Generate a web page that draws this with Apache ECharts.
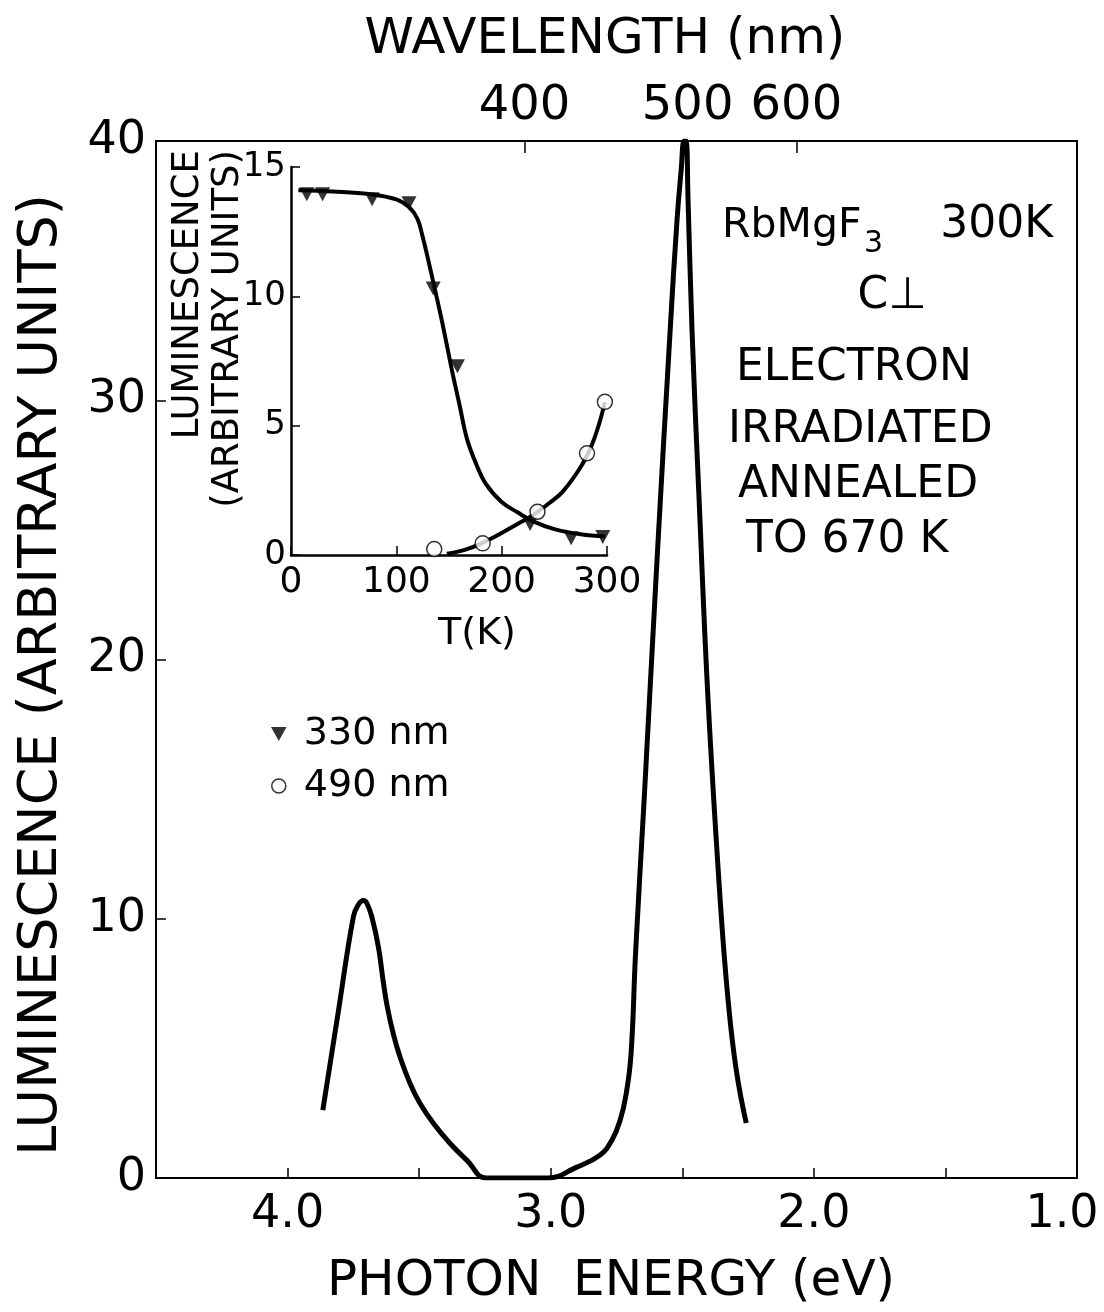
<!DOCTYPE html>
<html>
<head>
<meta charset="utf-8">
<title>RbMgF3 luminescence</title>
<script src="https://cdn.jsdelivr.net/npm/echarts@6/dist/echarts.min.js"></script>
<style>
  html, body { margin: 0; padding: 0; background: #fff; }
  #chart { width: 1104px; height: 1312px; }
</style>
</head>
<body>
<div id="chart"></div>
<script>
// main spectrum (photon energy in eV, luminescence in arb. units)
const energyEv = [3.866, 3.808, 3.750, 3.732, 3.712, 3.699, 3.680, 3.655, 3.636, 3.621, 3.598, 3.573, 3.535, 3.497,
  3.446, 3.383, 3.319, 3.243,
  3.010, 2.907, 2.812, 2.767, 2.736, 2.714, 2.695, 2.677, 2.645, 2.596, 2.546, 2.520, 2.504, 2.493,
  2.486, 2.478, 2.463, 2.436, 2.402, 2.356, 2.326, 2.295, 2.257]
const luminescence = [2.62, 6.36, 10.08, 10.53, 10.70, 10.60, 10.08, 8.92, 7.55, 6.6, 5.55, 4.68, 3.66, 2.88,
  2.11, 1.34, 0.69, 0,
  0, 0.39, 0.89, 1.47, 2.24, 3.20, 4.75, 8.79, 14.58, 23.84, 32.71, 36.95, 38.9, 40,
  40, 37.7, 32.7, 26.15, 18.44, 10.72, 6.87, 4.17, 2.12]

// top axis wavelengths (nm)
const wavelengthTicks = [400, 500, 600]

// inset: measured points
const temp330 = [15, 30, 77, 112, 135, 158, 227, 266, 296]
const lum330 = [13.95, 13.95, 13.75, 13.6, 10.3, 7.3, 1.2, 0.65, 0.7]
const temp490 = [136, 182, 234, 281, 298]
const lum490 = [0.23, 0.45, 1.67, 3.93, 5.92]

// inset: drawn curves through the points
const curveT330 = [7, 40, 75, 100, 112, 120, 125, 132, 143, 153, 160, 167, 175, 185, 200, 215, 230, 250, 275, 298]
const curveL330 = [14.1, 14.05, 13.95, 13.75, 13.45, 13.0, 12.3, 11.1, 9.1, 7.1, 5.8, 4.5, 3.6, 2.75, 2.05, 1.65, 1.3, 1.0, 0.8, 0.72]
const curveT490 = [148, 165, 182, 200, 215, 230, 245, 258, 275, 285, 292, 298]
const curveL490 = [0.05, 0.2, 0.47, 0.85, 1.2, 1.55, 2.0, 2.45, 3.4, 4.2, 5.0, 5.9]

const HC = 1239.84 // eV*nm
const FONT = 'DejaVu Sans'
const zip = (a, b) => a.map((v, i) => [v, b[i]])

const chart = echarts.init(document.getElementById('chart'), null, { renderer: 'canvas' })

const tickLabel = size => ({ color: '#000', fontFamily: FONT, fontSize: size })
const txt = (x, y, text, size, align, extra) => Object.assign({
  type: 'text',
  x: x,
  y: y,
  style: {
    text: text,
    fill: '#000',
    font: size + 'px "' + FONT + '"',
    textAlign: align || 'left',
    textVerticalAlign: 'middle'
  }
}, extra || {})

chart.setOption({
  backgroundColor: '#fff',
  animation: false,
  grid: [
    { left: 156, top: 141, width: 921, height: 1037, outerBoundsMode: 'none', show: true, borderColor: '#000', borderWidth: 2, backgroundColor: 'transparent' },
    { left: 291, top: 167, width: 316, height: 388, outerBoundsMode: 'none' }
  ],
  xAxis: [{
    // photon energy, bottom
    type: 'value', gridIndex: 0, min: 1, max: 4.5, interval: 0.5, inverse: true,
    axisLine: { show: true, lineStyle: { color: '#000', width: 2 } },
    axisTick: { inside: true, length: 10, lineStyle: { color: '#000', width: 1.5 } },
    axisLabel: {
      margin: 14, ...tickLabel(46),
      formatter: v => {
        if (Math.abs(v - Math.round(v)) > 1e-6 || v > 4.4) return ''
        // last label sits at the frame edge; nudge it inward
        return v < 1.01 ? '{edge|' + v.toFixed(1) + '}' : v.toFixed(1)
      },
      rich: { edge: { fontFamily: FONT, fontSize: 46, color: '#000', padding: [0, 30, 0, 0] } }
    },
    splitLine: { show: false }
  }, {
    // wavelength, top
    type: 'value', gridIndex: 0, min: 1, max: 4.5, inverse: true, position: 'top',
    axisLine: { show: false },
    axisTick: { inside: true, length: 12, customValues: wavelengthTicks.map(w => HC / w), lineStyle: { color: '#000', width: 1.5 } },
    axisLabel: {
      margin: 10, ...tickLabel(48),
      customValues: wavelengthTicks.map(w => HC / w),
      formatter: v => String(Math.round(HC / v))
    },
    splitLine: { show: false }
  }, {
    // inset temperature
    type: 'value', gridIndex: 1, min: 0, max: 300, interval: 100,
    axisLine: { show: true, lineStyle: { color: '#000', width: 2.5 } },
    axisTick: { inside: true, length: 9, lineStyle: { color: '#000', width: 1.5 } },
    axisLabel: { margin: 10, ...tickLabel(36) },
    splitLine: { show: false }
  }],
  yAxis: [{
    type: 'value', gridIndex: 0, min: 0, max: 40, interval: 10,
    axisLine: { show: true, lineStyle: { color: '#000', width: 2 } },
    axisTick: { inside: true, length: 10, lineStyle: { color: '#000', width: 1.5 } },
    axisLabel: { margin: 10, ...tickLabel(46) },
    splitLine: { show: false }
  }, {
    type: 'value', gridIndex: 1, min: 0, max: 15, interval: 5,
    axisLine: { show: true, lineStyle: { color: '#000', width: 2.5 } },
    axisTick: { inside: true, length: 9, lineStyle: { color: '#000', width: 1.5 } },
    axisLabel: { margin: 5, ...tickLabel(34) },
    splitLine: { show: false }
  }],
  legend: {
    orient: 'vertical',
    left: 266,
    top: 710,
    itemGap: 14,
    itemWidth: 16,
    itemHeight: 14,
    textStyle: { color: '#000', fontFamily: FONT, fontSize: 38, padding: [0, 0, 0, 12] },
    data: [
      { name: '330 nm', icon: 'path://M0,0 L10,0 L5,9 Z', itemStyle: { color: '#000' } },
      { name: '490 nm', icon: 'circle', itemStyle: { color: '#fff', borderColor: '#000', borderWidth: 1.5 } }
    ]
  },
  series: [{
    name: 'spectrum',
    type: 'line',
    xAxisIndex: 0, yAxisIndex: 0,
    data: zip(energyEv, luminescence),
    smooth: 0.45,
    showSymbol: false,
    lineStyle: { color: '#000', width: 5 },
    z: 3
  }, {
    name: 'curve330',
    type: 'line',
    xAxisIndex: 2, yAxisIndex: 1,
    data: zip(curveT330, curveL330),
    smooth: 0.4,
    showSymbol: false,
    lineStyle: { color: '#000', width: 4 }
  }, {
    name: 'curve490',
    type: 'line',
    xAxisIndex: 2, yAxisIndex: 1,
    data: zip(curveT490, curveL490),
    smooth: 0.4,
    showSymbol: false,
    lineStyle: { color: '#000', width: 4 }
  }, {
    name: '330 nm',
    type: 'scatter',
    xAxisIndex: 2, yAxisIndex: 1,
    data: zip(temp330, lum330),
    symbol: 'triangle',
    symbolRotate: 180,
    symbolSize: [15, 14],
    itemStyle: { color: '#000' },
    z: 5
  }, {
    name: '490 nm',
    type: 'scatter',
    xAxisIndex: 2, yAxisIndex: 1,
    data: zip(temp490, lum490),
    symbol: 'circle',
    symbolSize: 15,
    itemStyle: { color: '#fff', borderColor: '#000', borderWidth: 1.5 },
    z: 5
  }],
  graphic: [
    txt(605, 40, 'WAVELENGTH (nm)', 50, 'center'),
    txt(611, 1282, 'PHOTON  ENERGY (eV)', 50, 'center'),
    txt(42, 675, 'LUMINESCENCE (ARBITRARY UNITS)', 54, 'center', { rotation: Math.PI / 2 }),
    {
      type: 'text', x: 208, y: 150, rotation: Math.PI / 2,
      style: {
        text: 'LUMINESCENCE\n(ARBITRARY UNITS)', fill: '#000', font: '37px "' + FONT + '"',
        lineHeight: 40, textAlign: 'right', textVerticalAlign: 'middle'
      }
    },
    txt(477, 634, 'T(K)', 38, 'center'),
    txt(722, 226, 'RbMgF', 41, 'left'),
    txt(864, 244, '3', 30, 'left'),
    txt(1053, 226, '300K', 44, 'right'),
    txt(892, 297, 'C⊥', 44, 'center'),
    txt(736, 369, 'ELECTRON', 44, 'left'),
    txt(728, 431, 'IRRADIATED', 44, 'left'),
    txt(738, 486, 'ANNEALED', 44, 'left'),
    txt(746, 541, 'TO 670 K', 44, 'left')
  ]
})
</script>
</body>
</html>
